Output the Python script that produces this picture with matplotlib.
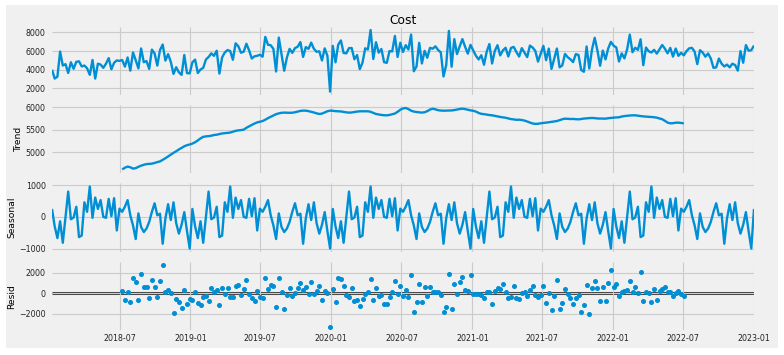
import numpy as np
import pandas as pd
import matplotlib
matplotlib.use('Agg')
import matplotlib.pyplot as plt
import matplotlib.dates as mdates
from matplotlib.patches import Rectangle

# ---------------- data ----------------
start_date = '2018-01-07'
n_weeks = 261
period = 52
edge = 26  # weeks without trend/resid at each end

# observed Cost for the first and last 26 weeks
cost_head = [4000, 3050, 3250, 5950, 4450, 4600, 3650, 4800, 4100, 4850,
             4900, 4350, 4450, 4150, 3450, 5050, 3050, 4650, 4550, 4200,
             4650, 5250, 4050, 4750, 5000, 4950]
cost_tail = [6000, 6300, 6350, 5950, 4600, 6100, 5850, 5400, 5750, 5200,
             4200, 4250, 5200, 4650, 4350, 4550, 4250, 4650, 4500, 3900,
             6000, 4750, 6650, 6050, 6100, 6600]

trend_values = [
    4622, 4660, 4685, 4670, 4640, 4650, 4680, 4705, 4725, 4740,
    4745, 4750, 4765, 4785, 4800, 4835, 4870, 4910, 4950, 4990,
    5025, 5065, 5100, 5135, 5160, 5175, 5195, 5225, 5265, 5310,
    5345, 5355, 5360, 5370, 5385, 5392, 5405, 5420, 5425, 5432,
    5440, 5460, 5478, 5488, 5494, 5505, 5545, 5578, 5610, 5640,
    5665, 5680, 5695, 5725, 5760, 5790, 5820, 5848, 5865, 5878,
    5882, 5880, 5878, 5880, 5890, 5905, 5920, 5926, 5925, 5915,
    5900, 5885, 5865, 5852, 5860, 5885, 5912, 5926, 5922, 5915,
    5912, 5908, 5898, 5888, 5882, 5885, 5895, 5905, 5911, 5912,
    5913, 5912, 5900, 5875, 5852, 5840, 5830, 5824, 5822, 5830,
    5845, 5862, 5900, 5945, 5975, 5985, 5960, 5925, 5905, 5895,
    5888, 5882, 5890, 5915, 5950, 5968, 5955, 5935, 5928, 5925,
    5926, 5928, 5930, 5938, 5950, 5962, 5970, 5960, 5945, 5932,
    5922, 5905, 5875, 5855, 5848, 5838, 5828, 5822, 5810, 5798,
    5786, 5778, 5768, 5752, 5738, 5732, 5722, 5725, 5718, 5705,
    5685, 5662, 5642, 5632, 5635, 5645, 5652, 5660, 5668, 5678,
    5686, 5695, 5715, 5735, 5748, 5745, 5740, 5742, 5736, 5733,
    5740, 5750, 5756, 5760, 5763, 5760, 5752, 5750, 5746, 5748,
    5758, 5765, 5770, 5776, 5778, 5795, 5805, 5812, 5818, 5822,
    5822, 5815, 5805, 5798, 5793, 5790, 5785, 5780, 5770, 5752,
    5735, 5700, 5660, 5645, 5648, 5658, 5660, 5652, 5644]

seasonal_pattern = [
    250, -300, -670, -140, -820, 0, 800, -75, -20, 320,
    -640, -590, 460, 160, 960, -30, 610, 250, 530, 0,
    -30, 570, 20, 590, -430, 260, 160, 320, 530, 50,
    -270, -700, 110, -320, -480, -370, -160, 160, 430, 50,
    100, -850, -50, 400, -100, 460, -200, -530, -250, 150,
    -450, -1000]

resid_values = [
    260, -650, 100, -820, 1480, 1080, -650, 1900, 560, 560,
    -490, 1250, 560, -390, 1210, 2720, 160, 360, 0, -1900,
    -560, -820, -1410, 300, -1080, -560, -650, 160, -950, -1150,
    -330, -260, -790, 460, 130, 330, -1180, 490, -30, 520,
    -390, -360, 750, 790, -200, 430, 1280, -70, -430, -790,
    260, -330, -460, 1480, 390, 790, 690, -1340, 1480, 100,
    -1510, -200, 520, -230, 0, 520, 950, 300, 560, -70,
    1110, -100, 260, 660, -620, 260, 30, -3280, 390, -820,
    1440, 1380, 720, -130, -360, 520, -750, -650, -1210, -560,
    -70, 100, 1410, -690, 490, -260, -130, -1020, -1050, -390,
    100, 1180, -100, 690, -230, 330, -320, 1800, -1800, -850,
    890, -890, 620, -260, 560, 130, 130, 130, -160, -1800,
    -1380, 1840, -1510, 890, -70, 1080, 1570, 360, 230, 1740,
    -100, -100, -100, -160, -490, 100, 130, -1080, 230, 520,
    390, 890, 130, -490, -360, 750, -430, -560, 70, 130,
    -300, 360, 720, -200, -330, -200, 750, -950, 70, -1640,
    -230, 1280, -1570, -950, 430, -30, -460, -1080, -490, -200,
    -1870, -1120, 790, -2030, 520, 1210, 520, -790, 560, -790,
    980, 2230, 560, 920, -230, 100, 230, 360, 1150, 130,
    560, 0, 2100, -720, 130, 30, -890, 390, -650, 200,
    390, 560, 130, 130, -260, 30, 260, -100, -260]

# ---------------- assemble components ----------------
dates = pd.date_range(start_date, periods=n_weeks, freq='W-SUN')
seasonal = np.resize(np.array(seasonal_pattern, float), n_weeks)
trend = np.full(n_weeks, np.nan)
trend[edge:n_weeks - edge] = trend_values
resid = np.full(n_weeks, np.nan)
resid[edge:n_weeks - edge] = resid_values
cost = np.empty(n_weeks)
cost[:edge] = cost_head
cost[n_weeks - edge:] = cost_tail
mid = slice(edge, n_weeks - edge)
cost[mid] = trend[mid] + seasonal[mid] + resid[mid]

# ---------------- plotting ----------------
plt.style.use('fivethirtyeight')
BLUE = '#008fd5'
W, H = 784, 355
fig = plt.figure(figsize=(W / 100, H / 100), dpi=100)
fig.patch.set_facecolor('white')
fig.patches.append(Rectangle((6 / W, 7 / H), 772 / W, 343 / H,
                             transform=fig.transFigure, facecolor='#f0f0f0',
                             edgecolor='none', zorder=-10))

left = 52 / W
width = (754 - 52) / W
tops = [26.9, 104.9, 183.4, 262.2]
heights = [67.8, 67.6, 68.2, 67.8]
axes = []
for t, h in zip(tops, heights):
    ax = fig.add_axes([left, (H - t - h) / H, width, h / H])
    axes.append(ax)

tick_fs = 5.7
label_fs = 6.6
for ax in axes:
    ax.set_facecolor('#f0f0f0')
    ax.grid(True, color='#cbcbcb', linewidth=0.8)
    for s in ax.spines.values():
        s.set_visible(False)
    ax.tick_params(axis='both', length=0, labelsize=tick_fs, pad=4.5,
                   colors='#222222')
    ax.set_xlim(dates[0], dates[-1])
    ax.xaxis.set_major_locator(mdates.MonthLocator(bymonth=[1, 7]))
    ax.xaxis.set_major_formatter(mdates.DateFormatter('%Y-%m'))

ax1, ax2, ax3, ax4 = axes
ax1.plot(dates, cost, color=BLUE, linewidth=1.7)
ax1.set_title('Cost', fontsize=8.8, pad=2)
ax1.set_yticks([2000, 4000, 6000, 8000])

ax2.plot(dates, trend, color=BLUE, linewidth=1.7)
ax2.set_ylabel('Trend', fontsize=label_fs, labelpad=2)
ax2.set_yticks([5000, 5500, 6000])

ax3.plot(dates, seasonal, color=BLUE, linewidth=1.7)
ax3.set_ylabel('Seasonal', fontsize=label_fs, labelpad=2)
ax3.set_yticks([-1000, 0, 1000])

ax4.plot(dates, resid, marker='o', linestyle='none', color=BLUE,
         markersize=2.6)
ax4.plot([dates[0], dates[-1]], [0, 0], color='#444444', linewidth=2.2,
         zorder=-3)
ax4.set_ylabel('Resid', fontsize=label_fs, labelpad=2)
ax4.set_yticks([-2000, 0, 2000])

for ax in axes[:3]:
    ax.tick_params(axis='x', labelbottom=False)
ax4.tick_params(axis='x', pad=3)

fig.savefig('out.png', dpi=100, facecolor='white')
